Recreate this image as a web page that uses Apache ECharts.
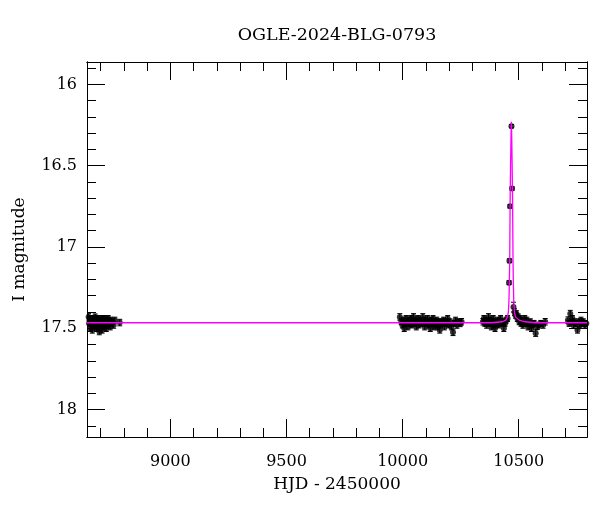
<!DOCTYPE html>
<html>
<head>
<meta charset="utf-8">
<script src="https://cdn.jsdelivr.net/npm/echarts@6/dist/echarts.min.js"></script>
<style>html,body{margin:0;padding:0;background:#fff}#chart{width:600px;height:512px}</style>
</head>
<body>
<div id="chart"></div>
<script>
// ---- data (HJD-2450000, I mag, error) ----
const season1 = [
[8648,17.43,0.02],[8650,17.47,0.02],[8652,17.45,0.018],[8654,17.50,0.02],[8656,17.44,0.018],
[8658,17.46,0.018],[8660,17.48,0.02],[8662,17.45,0.018],[8664,17.51,0.02],[8666,17.44,0.018],
[8668,17.47,0.018],[8670,17.46,0.018],[8672,17.49,0.02],[8674,17.45,0.018],[8676,17.43,0.018],
[8678,17.48,0.02],[8680,17.46,0.018],[8682,17.50,0.02],[8684,17.44,0.018],[8686,17.47,0.018],
[8688,17.45,0.018],[8690,17.49,0.02],[8692,17.46,0.018],[8694,17.52,0.02],[8696,17.44,0.018],
[8698,17.47,0.018],[8700,17.45,0.018],[8702,17.48,0.02],[8704,17.46,0.018],[8706,17.51,0.02],
[8708,17.44,0.018],[8710,17.47,0.018],[8712,17.45,0.018],[8714,17.49,0.02],[8716,17.46,0.018],
[8718,17.44,0.018],[8720,17.48,0.02],[8722,17.46,0.018],[8724,17.50,0.02],[8726,17.45,0.018],
[8729,17.47,0.018],[8732,17.44,0.018],[8735,17.48,0.02],[8738,17.46,0.018],[8741,17.49,0.02],
[8744,17.45,0.018],[8747,17.47,0.018],[8751,17.46,0.018],[8756,17.48,0.02],[8761,17.45,0.018],
[8782,17.465,0.02]
];
const season2 = [
[9988,17.43,0.02],[9994,17.46,0.018],[9999,17.48,0.018],[10003,17.45,0.018],[10007,17.50,0.02],
[10011,17.47,0.018],[10015,17.44,0.018],[10019,17.46,0.018],[10023,17.49,0.02],[10027,17.45,0.018],
[10031,17.47,0.018],[10035,17.44,0.018],[10039,17.48,0.018],[10043,17.46,0.018],[10047,17.43,0.02],
[10051,17.47,0.018],[10055,17.45,0.018],[10059,17.49,0.02],[10063,17.46,0.018],[10067,17.44,0.018],
[10071,17.48,0.018],[10075,17.46,0.018],[10079,17.45,0.018],[10083,17.47,0.018],[10087,17.43,0.02],
[10091,17.46,0.018],[10095,17.49,0.02],[10099,17.45,0.018],[10103,17.47,0.018],[10107,17.44,0.018],
[10111,17.48,0.018],[10115,17.46,0.018],[10119,17.50,0.02],[10123,17.45,0.018],[10127,17.47,0.018],
[10131,17.44,0.018],[10135,17.49,0.02],[10139,17.46,0.018],[10143,17.48,0.018],[10147,17.45,0.018],
[10151,17.49,0.02],[10155,17.46,0.018],[10160,17.51,0.02],[10164,17.48,0.018],[10168,17.46,0.018],
[10172,17.47,0.018],[10176,17.45,0.018],[10180,17.49,0.02],[10184,17.46,0.018],[10189,17.47,0.018],
[10194,17.44,0.018],[10199,17.48,0.018],[10204,17.46,0.018],[10210,17.49,0.02],[10217,17.525,0.02],
[10222,17.47,0.018],[10228,17.45,0.018],[10234,17.48,0.02],[10241,17.46,0.018],[10248,17.47,0.02],
[10254,17.46,0.02]
];
const season3 = [
[10346,17.46,0.02],[10350,17.44,0.018],[10354,17.47,0.018],[10358,17.45,0.018],[10362,17.48,0.02],
[10366,17.46,0.018],[10370,17.43,0.02],[10374,17.47,0.018],[10378,17.45,0.018],[10382,17.49,0.02],
[10386,17.46,0.018],[10390,17.44,0.018],[10394,17.48,0.018],[10398,17.50,0.02],[10402,17.46,0.018],
[10406,17.47,0.018],[10410,17.45,0.018],[10414,17.48,0.018],[10418,17.46,0.018],[10422,17.44,0.018],
[10427,17.47,0.018],[10432,17.46,0.018],[10436,17.50,0.02],[10441,17.47,0.018],[10446,17.45,0.018],
[10452,17.44,0.018]
];
const eventPoints = [
[10458.4,17.22,0.012],[10460.1,17.085,0.012],[10462.7,16.75,0.01],[10468.8,16.257,0.01],
[10471.3,16.64,0.01],[10477.4,17.37,0.03]
];
const season3Late = [
[10482,17.40,0.02],[10486,17.42,0.018],[10490,17.41,0.018],[10494,17.44,0.018],[10498,17.43,0.018],
[10502,17.46,0.018],[10506,17.44,0.018],[10510,17.47,0.018],[10514,17.45,0.018],[10518,17.48,0.02],
[10522,17.46,0.018],[10526,17.44,0.018],[10530,17.47,0.018],[10535,17.45,0.018],[10540,17.49,0.02],
[10545,17.47,0.018],[10550,17.46,0.018],[10555,17.50,0.02],[10560,17.48,0.018],[10566,17.47,0.018],
[10573,17.53,0.02],[10580,17.49,0.018],[10587,17.48,0.018],[10595,17.47,0.018],[10605,17.48,0.02],
[10614,17.46,0.02]
];
const season4 = [
[10712,17.45,0.02],[10717,17.47,0.018],[10722,17.41,0.02],[10727,17.46,0.018],[10731,17.44,0.018],
[10736,17.48,0.02],[10740,17.46,0.018],[10745,17.47,0.018],[10753,17.51,0.02],[10758,17.46,0.018],
[10763,17.48,0.018],[10768,17.45,0.018],[10773,17.47,0.018],[10778,17.46,0.018],[10785,17.48,0.02],
[10791,17.47,0.018]
];
// model light curve
const modelT   = [8641, 10382, 10430, 10444, 10451, 10455.4, 10458, 10459.7, 10461.2, 10462.1, 10463.1, 10464.9, 10467.0, 10468.3,
                  10469.6, 10471.7, 10473.5, 10474.5, 10475.4, 10476.9, 10478.6, 10481.2, 10486, 10502, 10528, 10570, 10794];
const modelMag = [17.466, 17.466, 17.46, 17.45, 17.43, 17.40, 17.33, 17.22, 17.08, 16.90, 16.70, 16.50, 16.30, 16.23,
                  16.30, 16.50, 16.70, 16.90, 17.08, 17.22, 17.33, 17.40, 17.43, 17.45, 17.46, 17.466, 17.466];
// axes
const xMajorTicks = [9000, 9500, 10000, 10500];
const xMinorTicks = [8700, 8800, 8900, 9100, 9200, 9300, 9400, 9600, 9700, 9800, 9900, 10100, 10200, 10300, 10400, 10600, 10700];
const yMajorTicks = [16, 16.5, 17, 17.5, 18];
const yMinorTicks = [15.9, 16.1, 16.2, 16.3, 16.4, 16.6, 16.7, 16.8, 16.9, 17.1, 17.2, 17.3, 17.4, 17.6, 17.7, 17.8, 17.9, 18.1];
const xRange = [8641, 10794];
const yRange = [15.862, 18.169];

const obs = [].concat(season1, season2, season3, eventPoints, season3Late, season4);
const FONT = 'DejaVu Serif';
const BLACK = '#000';

function xAx(pos, ticks, len, labels) {
  return {
    type: 'value', position: pos, min: xRange[0], max: xRange[1],
    axisLine: {show: true, onZero: false, lineStyle: {color: BLACK, width: 1}},
    axisTick: {show: true, inside: true, length: len, customValues: ticks, lineStyle: {color: BLACK, width: 1}},
    axisLabel: labels ? {show: true, customValues: ticks, color: BLACK, fontFamily: FONT, fontSize: 16, margin: 17,
                         formatter: function (v) { return String(v); }} : {show: false},
    splitLine: {show: false}, minorTick: {show: false}
  };
}
function yAx(pos, ticks, len, labels) {
  return {
    type: 'value', position: pos, inverse: true, min: yRange[0], max: yRange[1],
    axisLine: {show: true, onZero: false, lineStyle: {color: BLACK, width: 1}},
    axisTick: {show: true, inside: true, length: len, customValues: ticks, lineStyle: {color: BLACK, width: 1}},
    axisLabel: labels ? {show: true, customValues: ticks, color: BLACK, fontFamily: FONT, fontSize: 16, margin: 10,
                         formatter: function (v) { return String(v); }} : {show: false},
    splitLine: {show: false}, minorTick: {show: false}
  };
}

const xMain = xAx('bottom', xMajorTicks, 18, true);
xMain.name = 'HJD - 2450000';
xMain.nameLocation = 'middle';
xMain.nameGap = 39;
xMain.nameTextStyle = {color: BLACK, fontFamily: FONT, fontSize: 17};
const yMain = yAx('left', yMajorTicks, 18, true);
yMain.name = 'I magnitude';
yMain.nameLocation = 'middle';
yMain.nameGap = 59;
yMain.nameTextStyle = {color: BLACK, fontFamily: FONT, fontSize: 17};

const chart = echarts.init(document.getElementById('chart'), null, {renderer: 'canvas'});
chart.setOption({
  animation: false,
  backgroundColor: '#fff',
  title: {
    text: 'OGLE-2024-BLG-0793', left: 332, top: 21.5, textAlign: 'center',
    textStyle: {color: BLACK, fontFamily: FONT, fontSize: 17.5, fontWeight: 'normal'}
  },
  grid: {left: 87, right: 13, top: 62, bottom: 75, containLabel: false},
  xAxis: [xMain, xAx('bottom', xMinorTicks, 9, false), xAx('top', xMajorTicks, 18, false), xAx('top', xMinorTicks, 9, false)],
  yAxis: [yMain, yAx('left', yMinorTicks, 9, false), yAx('right', yMajorTicks, 18, false), yAx('right', yMinorTicks, 9, false)],
  series: [
    {
      type: 'custom', xAxisIndex: 0, yAxisIndex: 0, clip: true, z: 2,
      data: obs.map(function (d) { return [d[0], d[1] - d[2], d[1] + d[2]]; }),
      encode: {x: 0, y: [1, 2]},
      renderItem: function (params, api) {
        const t = api.value(0);
        const p1 = api.coord([t, api.value(1)]);
        const p2 = api.coord([t, api.value(2)]);
        const c = 2.5;
        const st = {stroke: BLACK, lineWidth: 1};
        return {type: 'group', children: [
          {type: 'line', shape: {x1: p1[0], y1: p1[1], x2: p2[0], y2: p2[1]}, style: st},
          {type: 'line', shape: {x1: p1[0] - c, y1: p1[1], x2: p1[0] + c, y2: p1[1]}, style: st},
          {type: 'line', shape: {x1: p2[0] - c, y1: p2[1], x2: p2[0] + c, y2: p2[1]}, style: st}
        ]};
      }
    },
    {
      type: 'scatter', xAxisIndex: 0, yAxisIndex: 0, z: 3,
      symbol: 'circle', symbolSize: 6,
      itemStyle: {color: BLACK},
      data: obs.map(function (d) { return [d[0], d[1]]; })
    },
    {
      type: 'line', xAxisIndex: 0, yAxisIndex: 0, z: 4,
      showSymbol: false, smooth: false,
      lineStyle: {color: '#ff00ff', width: 1.3},
      data: modelT.map(function (t, i) { return [t, modelMag[i]]; })
    }
  ]
});
</script>
</body>
</html>
